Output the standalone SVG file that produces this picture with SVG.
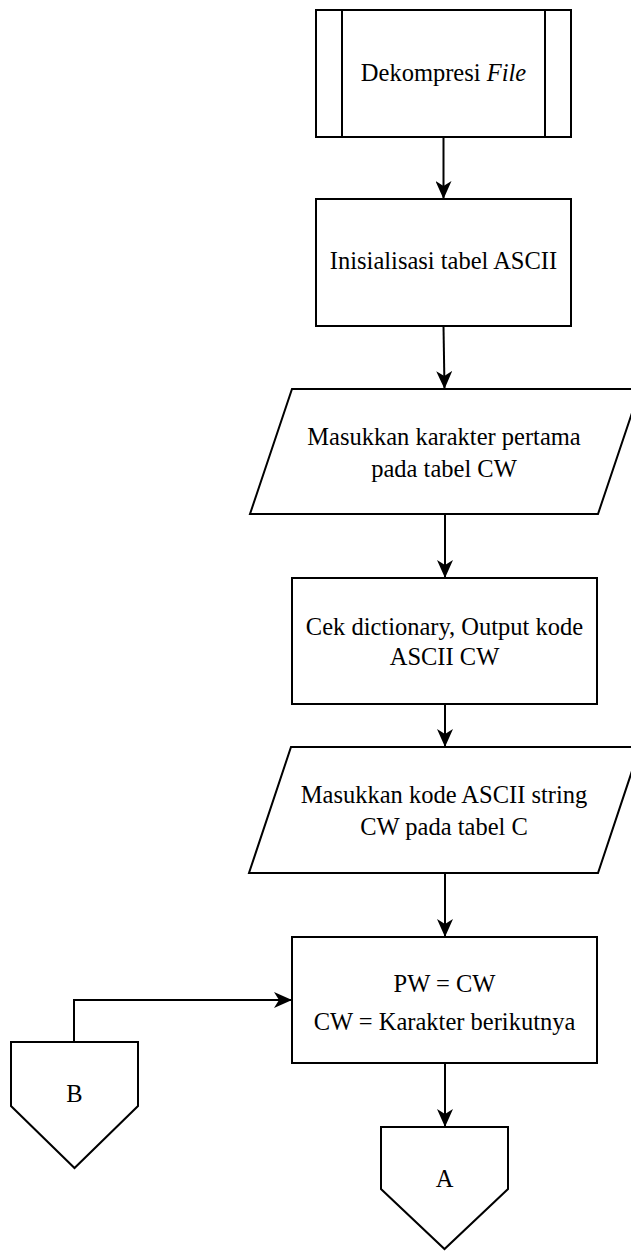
<svg xmlns="http://www.w3.org/2000/svg" width="631" height="1251" viewBox="0 0 631 1251">
<style>
.s{fill:#fff;stroke:#000;stroke-width:2}
.c{fill:none;stroke:#000;stroke-width:2}
.t{font-family:"Liberation Serif","Times New Roman",serif;font-size:24.5px;text-anchor:middle;fill:#000}
</style>
<defs>
<marker id="ah" markerUnits="userSpaceOnUse" markerWidth="18" markerHeight="16" refX="18" refY="8" orient="auto">
<path d="M0,0 L18,8 L0,16 L5,8 Z" fill="#000"/>
</marker>
</defs>
<g id="connectors">
<line class="c" x1="443.5" y1="137" x2="443.5" y2="199" marker-end="url(#ah)"/>
<line class="c" x1="443.5" y1="326" x2="444.5" y2="389" marker-end="url(#ah)"/>
<line class="c" x1="445" y1="514" x2="445" y2="578" marker-end="url(#ah)"/>
<line class="c" x1="445" y1="704" x2="445" y2="747" marker-end="url(#ah)"/>
<line class="c" x1="445" y1="873" x2="445" y2="937" marker-end="url(#ah)"/>
<line class="c" x1="445" y1="1063" x2="445" y2="1127" marker-end="url(#ah)"/>
<polyline class="c" points="74,1042 74,1000 292,1000" marker-end="url(#ah)"/>
</g>
<g id="dekompresi">
<rect class="s" x="316" y="10" width="255" height="127"/>
<line class="c" x1="342" y1="10" x2="342" y2="137"/>
<line class="c" x1="545" y1="10" x2="545" y2="137"/>
<text class="t" x="443.5" y="81">Dekompresi <tspan font-style="italic">File</tspan></text>
</g>
<g id="inisialisasi">
<rect class="s" x="316" y="199" width="255" height="127"/>
<text class="t" x="443.5" y="269">Inisialisasi tabel ASCII</text>
</g>
<g id="masukkan-karakter">
<polygon class="s" points="292,389 640,389 598,514 250,514"/>
<text class="t" x="444" y="445">Masukkan karakter pertama</text>
<text class="t" x="444" y="477">pada tabel CW</text>
</g>
<g id="cek-dictionary">
<rect class="s" x="292" y="578" width="305" height="126"/>
<text class="t" x="444.5" y="635">Cek dictionary, Output kode</text>
<text class="t" x="444.5" y="665">ASCII CW</text>
</g>
<g id="masukkan-kode">
<polygon class="s" points="291,747 640,747 598,873 249,873"/>
<text class="t" x="444" y="803">Masukkan kode ASCII string</text>
<text class="t" x="444" y="835">CW pada tabel C</text>
</g>
<g id="pw-cw">
<rect class="s" x="292" y="937" width="305" height="126"/>
<text class="t" x="444.5" y="992">PW = CW</text>
<text class="t" x="444.5" y="1030">CW = Karakter berikutnya</text>
</g>
<g id="connector-a">
<polygon class="s" points="381,1127 508,1127 508,1189 444.5,1249 381,1189"/>
<text class="t" x="444.5" y="1187">A</text>
</g>
<g id="connector-b">
<polygon class="s" points="11,1042 138,1042 138,1106 74.5,1168 11,1106"/>
<text class="t" x="74.5" y="1102">B</text>
</g>
</svg>
